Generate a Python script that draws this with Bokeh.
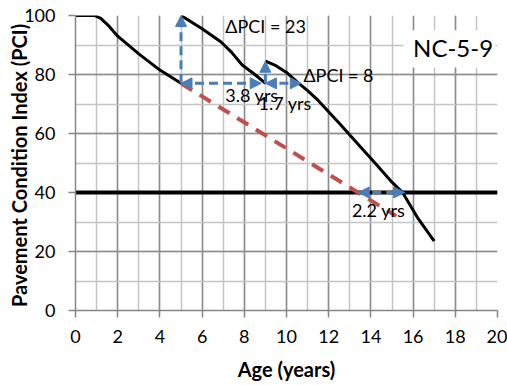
from bokeh.plotting import figure
from bokeh.models import Range1d, SingleIntervalTicker, Arrow, NormalHead, Label, BoxAnnotation
from bokeh.embed import file_html
from bokeh.resources import INLINE

# ---- data ----
seg1_age = [0, 0.9, 1.2, 1.6, 2.0, 3.0, 4.0, 5.0]
seg1_pci = [100, 100, 99, 96.3, 93, 87, 81.5, 77]
seg2_age = [5.0, 6.0, 6.9, 7.4, 7.9, 8.5, 9.0]
seg2_pci = [100, 95.5, 91, 87.5, 83.2, 80, 77]
seg3_age = [9.0, 9.5, 10.0, 10.5, 11.0, 11.5, 12.5, 13.5, 14.1, 15.0, 15.5, 16.2, 17.0]
seg3_pci = [84.5, 83, 80.7, 77.5, 74.5, 71.2, 63.5, 55.5, 50.8, 43.5, 40, 31.6, 23.5]
trend_age = [5.0, 15.2]
trend_pci = [77, 32]
threshold_pci = 40
age_range = [0, 20]

# arrows: (x_start, y_start, x_end, y_end, double-headed)
arrows = [
    (5.0, 77, 5.0, 100, False),
    (5.0, 77, 8.8, 77, True),
    (9.0, 77, 9.0, 84.5, False),
    (9.0, 77, 10.7, 77, True),
    (13.4, 40, 15.6, 40, True),
]
labels_text = ["ΔPCI = 23", "ΔPCI = 8", "3.8 yrs", "1.7 yrs", "2.2 yrs"]
labels_x = [7.1, 10.8, 7.1, 8.67, 13.1]
labels_y = [96.3, 79.7, 73.2, 70.2, 33.9]

FONT = "Lato"
BLUE = "#4A7EBB"
RED = "#C0504D"

p = figure(width=507, height=385, output_backend="svg", toolbar_location=None,
           x_range=Range1d(0, 20), y_range=Range1d(0, 100),
           min_border_left=75, min_border_right=10, min_border_top=15, min_border_bottom=75)
p.outline_line_color = None
p.background_fill_color = "white"

p.xaxis.ticker = SingleIntervalTicker(interval=2, num_minor_ticks=2)
p.yaxis.ticker = SingleIntervalTicker(interval=20, num_minor_ticks=2)
p.xgrid.ticker = p.xaxis.ticker
p.ygrid.ticker = p.yaxis.ticker
for g in (p.xgrid, p.ygrid):
    g.grid_line_color = "#8C8C8C"
    g.grid_line_width = 1.5
    g.minor_grid_line_color = "#C4C4C4"
    g.minor_grid_line_width = 1.5

for ax in (p.xaxis, p.yaxis):
    ax.axis_line_color = "#868686"
    ax.axis_line_width = 1.5
    ax.major_tick_line_color = "#868686"
    ax.major_tick_line_width = 1.5
    ax.major_tick_in = 0
    ax.major_tick_out = 7
    ax.minor_tick_line_color = None
    ax.major_label_text_font = FONT
    ax.major_label_text_font_size = "18px"
    ax.major_label_text_color = "black"
    ax.axis_label_text_font = FONT
    ax.axis_label_text_font_size = "20px"
    ax.axis_label_text_font_style = "bold"
    ax.axis_label_text_color = "black"

p.xaxis.axis_label = "Age (years)"
p.yaxis.axis_label = "Pavement Condition  Index (PCI)"
p.xaxis.major_label_standoff = 12
p.yaxis.major_label_standoff = 13
p.xaxis.axis_label_standoff = 11
p.yaxis.axis_label_standoff = -10

# threshold line
p.line(age_range, [threshold_pci, threshold_pci], line_color="black", line_width=4)

# trend (red dashed)
p.line(trend_age, trend_pci, line_color=RED, line_width=4, line_dash="13 9")

# PCI curves
for xs, ys in ((seg1_age, seg1_pci), (seg2_age, seg2_pci), (seg3_age, seg3_pci)):
    p.line(xs, ys, line_color="black", line_width=3)

# arrows
for xs, ys, xe, ye, dbl in arrows:
    head = lambda: NormalHead(size=11, fill_color=BLUE, line_color=BLUE, line_width=1)
    p.add_layout(Arrow(x_start=xs, y_start=ys, x_end=xe, y_end=ye,
                       line_color=BLUE, line_width=3, line_dash="9 5",
                       end=head(), start=head() if dbl else None))

for t, x, y in zip(labels_text, labels_x, labels_y):
    p.add_layout(Label(x=x, y=y, text=t, text_font=FONT, text_font_size="18px",
                       text_baseline="middle", text_align="left", text_color="black"))

p.add_layout(BoxAnnotation(left=15.55, right=19.9, bottom=82.4, top=95,
                           fill_color="white", fill_alpha=1, line_color=None))
p.add_layout(Label(x=16.0, y=89.2, text="NC-5-9", text_font=FONT, text_font_size="24px",
                   text_baseline="middle", text_align="left", text_color="black"))

open("out.html", "w").write(file_html(p, INLINE))
